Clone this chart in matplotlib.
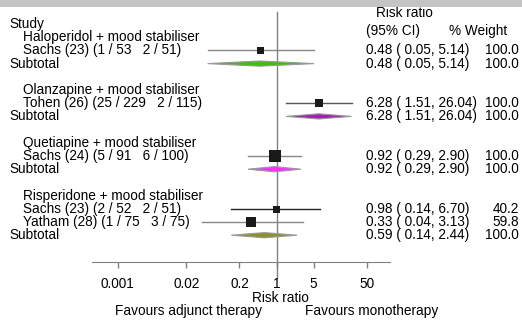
import numpy as np
import matplotlib
matplotlib.use("Agg")
import matplotlib.pyplot as plt
from matplotlib.patches import Rectangle, Polygon

plt.rcParams['font.family'] = ['Liberation Sans', 'DejaVu Sans']

# ---------------- data ----------------
groups = ["Haloperidol + mood stabiliser", "Olanzapine + mood stabiliser",
          "Quetiapine + mood stabiliser", "Risperidone + mood stabiliser"]
study_labels = [["Sachs (23) (1 / 53   2 / 51)"],
                ["Tohen (26) (25 / 229   2 / 115)"],
                ["Sachs (24) (5 / 91   6 / 100)"],
                ["Sachs (23) (2 / 52   2 / 51)", "Yatham (28) (1 / 75   3 / 75)"]]
study_rr = [[0.48], [6.28], [0.92], [0.98, 0.33]]
study_lo = [[0.05], [1.51], [0.29], [0.14, 0.04]]
study_hi = [[5.14], [26.04], [2.90], [6.70, 3.13]]
study_wt = [["100.0"], ["100.0"], ["100.0"], ["40.2", "59.8"]]
study_box = [[7], [8], [12], [7, 10]]          # marker size (px)
sub_rr = [0.48, 6.28, 0.92, 0.59]
sub_lo = [0.05, 1.51, 0.29, 0.14]
sub_hi = [5.14, 26.04, 2.90, 2.44]
sub_wt = ["100.0", "100.0", "100.0", "100.0"]
sub_colors = ["#3cc010", "#a020b0", "#ff30ff", "#909028"]
line_colors = [["#888888"], ["#555555"], ["#888888"], ["#222222", "#888888"]]
tick_vals = [0.001, 0.02, 0.2, 1, 5, 50]
tick_labels = ["0.001", "0.02", "0.2", "1", "5", "50"]

# ---------------- layout ----------------
W, H = 522, 322
fig = plt.figure(figsize=(W / 100, H / 100), dpi=100)
ax = fig.add_axes([0, 0, 1, 1])
ax.set_xscale('log')
x0, ppd = 276.5, 53.0  # pixel of RR=1, pixels per decade
ax.set_xlim(10 ** ((0 - x0) / ppd), 10 ** ((W - x0) / ppd))
ax.set_ylim(H, 0)
for s in ['top', 'left', 'right']:
    ax.spines[s].set_visible(False)
ax.tick_params(left=False, labelleft=False)

fs = 9.8
row0, dy = 24.0, 13.2
def ry(k):
    return row0 + dy * k

trans_x = ax.get_yaxis_transform()  # x in axes, y in data
def px(xp):
    return xp / W

# top grey band
ax.add_patch(Rectangle((0, 0), 1, 6.5, transform=trans_x, facecolor="#c4c4c4",
                       edgecolor="none", clip_on=False, zorder=5))

# reference line
ax.plot([1, 1], [12, 278], color="#808080", lw=1.0, zorder=1)

# headers
ax.text(px(404), 13, "Risk ratio", transform=trans_x, fontsize=fs, va='center', ha='center')
ax.text(px(9), ry(0), "Study", transform=trans_x, fontsize=fs, va='center', ha='left')
ax.text(px(366), 31, "(95% CI)", transform=trans_x, fontsize=fs, va='center', ha='left')
ax.text(px(507), 31, "% Weight", transform=trans_x, fontsize=fs, va='center', ha='right')

k = 1
for g in range(len(groups)):
    ax.text(px(23), ry(k), groups[g], transform=trans_x, fontsize=fs, va='center', ha='left')
    k += 1
    for j in range(len(study_labels[g])):
        y = ry(k)
        ax.text(px(23), y, study_labels[g][j], transform=trans_x, fontsize=fs,
                va='center', ha='left')
        ax.plot([study_lo[g][j], study_hi[g][j]], [y, y], color=line_colors[g][j],
                lw=1.0, zorder=2)
        ax.plot([study_rr[g][j]], [y], marker='s', ms=study_box[g][j] * 0.72,
                color="#1a1a1a", mec="#1a1a1a", mew=0, zorder=3)
        ax.text(px(366), y, f"{study_rr[g][j]:.2f} ( {study_lo[g][j]:.2f}, {study_hi[g][j]:.2f})",
                transform=trans_x, fontsize=fs, va='center', ha='left')
        ax.text(px(519), y, study_wt[g][j], transform=trans_x, fontsize=fs,
                va='center', ha='right')
        k += 1
    y = ry(k)
    ax.text(px(9), y, "Subtotal", transform=trans_x, fontsize=fs, va='center', ha='left')
    hh = 2.6
    poly = Polygon([[sub_lo[g], y], [sub_rr[g], y - hh], [sub_hi[g], y], [sub_rr[g], y + hh]],
                   closed=True, facecolor=sub_colors[g], edgecolor="#999999", lw=0.8, zorder=2)
    ax.add_patch(poly)
    ax.text(px(366), y, f"{sub_rr[g]:.2f} ( {sub_lo[g]:.2f}, {sub_hi[g]:.2f})",
            transform=trans_x, fontsize=fs, va='center', ha='left')
    ax.text(px(519), y, sub_wt[g], transform=trans_x, fontsize=fs, va='center', ha='right')
    k += 2

# bottom axis
ax.spines['bottom'].set_position(('data', 262))
ax.spines['bottom'].set_bounds(10 ** ((92 - x0) / ppd), 10 ** ((390 - x0) / ppd))
ax.spines['bottom'].set_color("#808080")
ax.set_xticks(tick_vals)
ax.set_xticklabels(tick_labels)
ax.xaxis.set_minor_locator(matplotlib.ticker.NullLocator())
ax.tick_params(axis='x', direction='out', length=4.5, color="#808080", width=1.0,
               pad=6, labelsize=fs)

ax.text(1.2, 297.5, "Risk ratio", fontsize=fs, va='center', ha='center')
ax.text(px(115), 311, "Favours adjunct therapy", transform=trans_x, fontsize=fs,
        va='center', ha='left')
ax.text(px(305), 311, "Favours monotherapy", transform=trans_x, fontsize=fs,
        va='center', ha='left')

fig.savefig("out.png", dpi=100)
